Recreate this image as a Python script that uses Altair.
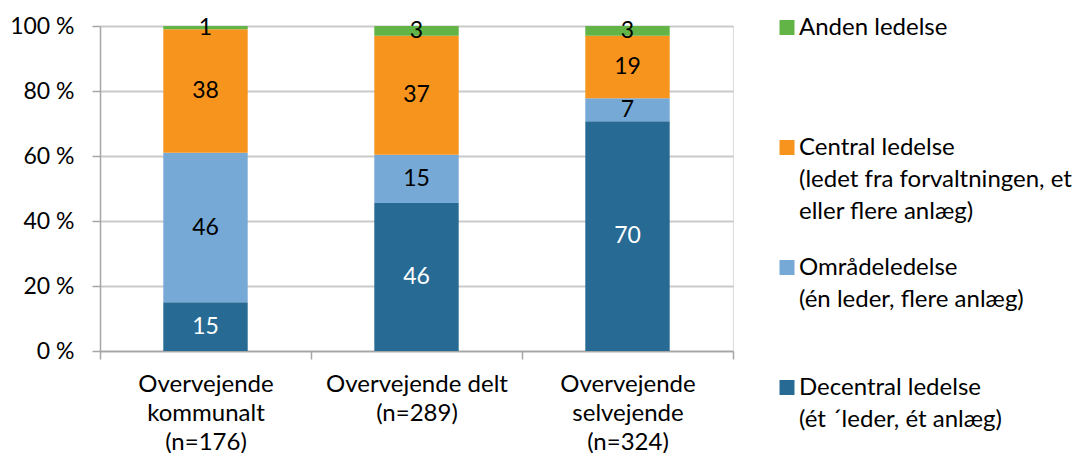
import altair as alt
import pandas as pd

# ---- data ----
categories = [
    "Overvejende\nkommunalt\n(n=176)",
    "Overvejende delt\n(n=289)",
    "Overvejende\nselvejende\n(n=324)",
]
# series from bottom of the stack to top
series = [
    "Decentral ledelse\n(ét ´leder, ét anlæg)",
    "Områdeledelse\n(én leder, flere anlæg)",
    "Central ledelse\n(ledet fra forvaltningen, et\neller flere anlæg)",
    "Anden ledelse",
]
decentral = [15, 46, 70]
omraade = [46, 15, 7]
central = [38, 37, 19]
anden = [1, 3, 3]
values = [decentral, omraade, central, anden]

colors = ["#62B446", "#F7941D", "#77A9D7", "#276A93"]  # legend order: Anden, Central, Område, Decentral
legend_order = series[::-1]
y_ticks = [0, 20, 40, 60, 80, 100]

rows = []
for si, (s, vals) in enumerate(zip(series, values)):
    for ci, c in enumerate(categories):
        rows.append({"cat": c, "serie": s, "order": si, "value": vals[ci]})
df = pd.DataFrame(rows)

FONT = "Lato"
FS = 23
FS_X = 24
FS_LEG = 24

base = (
    alt.Chart(df)
    .transform_joinaggregate(total="sum(value)", groupby=["cat"])
    .transform_window(
        cum="sum(value)", sort=[alt.SortField("order")], groupby=["cat"], frame=[None, 0]
    )
    .transform_calculate(
        y1="100*(datum.cum - datum.value)/datum.total",
        y2="100*datum.cum/datum.total",
        ym="100*(datum.cum - datum.value/2)/datum.total",
    )
)

x_enc = alt.X(
    "cat:N",
    sort=categories,
    scale=alt.Scale(paddingInner=0, paddingOuter=0),
    axis=alt.Axis(
        title=None,
        labelExpr="split(datum.label, '\\n')",
        labelAngle=0,
        labelLineHeight=29,
        labelPadding=13,
        labelLimit=400,
        labelFont=FONT,
        labelFontSize=FS_X,
        labelColor="black",
        labelBaseline="top",
        tickBand="extent",
        tickSize=8,
        tickColor="#A6A6A6",
        tickWidth=1.5,
        domainColor="#A6A6A6",
        domainWidth=1.5,
        grid=False,
    ),
)

y_scale = alt.Scale(domain=[0, 100], nice=False)

bars = base.mark_bar(width=alt.RelativeBandSize(0.4)).encode(
    x=x_enc,
    y=alt.Y(
        "y1:Q",
        scale=y_scale,
        axis=alt.Axis(
            title=None,
            values=y_ticks,
            labelExpr="datum.value + ' %'",
            labelFont=FONT,
            labelFontSize=FS,
            labelColor="black",
            labelPadding=18,
            tickSize=8,
            tickColor="#A6A6A6",
            tickWidth=1.5,
            domainColor="#A6A6A6",
            domainWidth=1.5,
            gridColor="#CACACA",
            gridWidth=1.8,
        ),
    ),
    y2="y2:Q",
    color=alt.Color(
        "serie:N",
        scale=alt.Scale(domain=legend_order, range=colors),
        legend=alt.Legend(
            title=None,
            orient="none",
            legendX=675,
            legendY=-3,
            padding=0,
            symbolType="M-1,-2H1V0H-1Z",
            symbolSize=225,
            symbolStrokeWidth=0,
            symbolOpacity=1,
            labelFont=FONT,
            labelFontSize=FS_LEG,
            labelColor="black",
            labelBaseline="alphabetic",
            labelLimit=600,
            labelOffset=0,
            rowPadding=32,
            labelExpr="slice(split(datum.label + '\\n\\n', '\\n'), 0, 3)",
        ),
    ),
)

labels = base.mark_text(font=FONT, fontSize=FS, baseline="middle").encode(
    x=alt.X("cat:N", sort=categories),
    y=alt.Y("ym:Q", scale=y_scale),
    text="value:Q",
    color=alt.condition("datum.order == 0", alt.value("white"), alt.value("black")),
)

chart = (
    alt.layer(bars, labels)
    .properties(
        width=633,
        height=325,
        autosize=alt.AutoSizeParams(type="none"),
        padding={"left": 92, "top": 18, "right": 345, "bottom": 102},
    )
    .configure_view(stroke=None)
    .configure(style={"guide-label": {"lineHeight": 32}})
)

chart.save("out.html", embed_options={"renderer": "svg", "actions": False})
